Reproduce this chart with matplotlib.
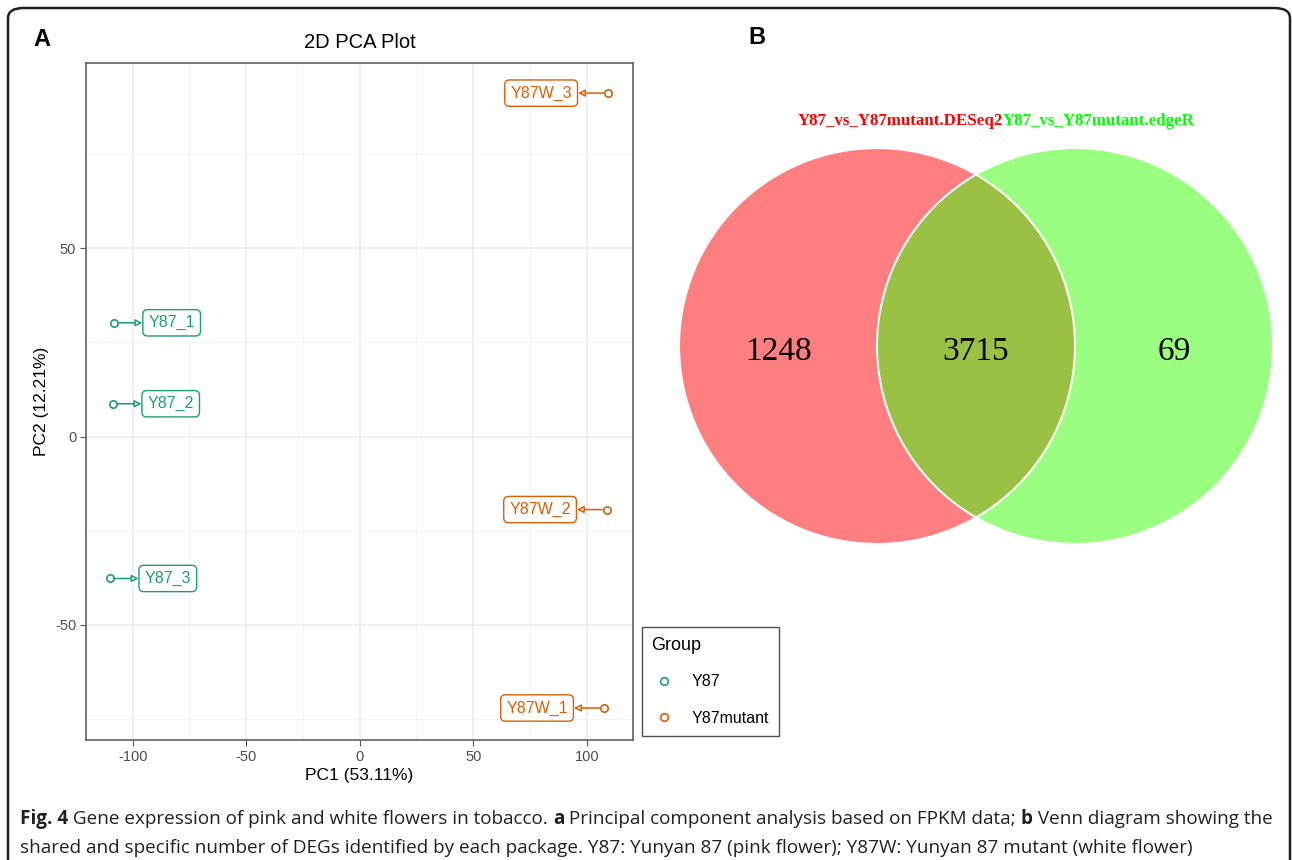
import matplotlib
matplotlib.use("Agg")
import matplotlib.pyplot as plt
from matplotlib.patches import Circle, FancyBboxPatch
from matplotlib.lines import Line2D

# ---------------- data ----------------
sample_names = ["Y87_1", "Y87_2", "Y87_3", "Y87W_1", "Y87W_2", "Y87W_3"]
sample_groups = ["Y87", "Y87", "Y87", "Y87mutant", "Y87mutant", "Y87mutant"]
pc1 = [-108.4, -108.8, -110.1, 107.5, 108.8, 109.3]
pc2 = [30.2, 8.7, -37.7, -72.1, -19.4, 91.2]
group_names = ["Y87", "Y87mutant"]
group_colors = {"Y87": "#1B9E77", "Y87mutant": "#D95F02"}
x_ticks = [-100, -50, 0, 50, 100]
y_ticks = [-50, 0, 50]
pc1_label = "PC1 (53.11%)"
pc2_label = "PC2 (12.21%)"

venn_set_names = ["Y87_vs_Y87mutant.DESeq2", "Y87_vs_Y87mutant.edgeR"]
venn_counts = [1248, 3715, 69]   # only set A, shared, only set B

caption_bold = "Fig. 4"
caption_l1 = (" Gene expression of pink and white flowers in tobacco. ")
caption_a = "a"
caption_l1b = " Principal component analysis based on FPKM data; "
caption_b = "b"
caption_l1c = " Venn diagram showing the"
caption_l2 = ("shared and specific number of DEGs identified by each package. "
              "Y87: Yunyan 87 (pink flower); Y87W: Yunyan 87 mutant (white flower)")

# ---------------- figure ----------------
W, H = 1292, 860
fig = plt.figure(figsize=(W / 100, H / 100), dpi=100)
plt.rcParams['font.family'] = ['Liberation Sans', 'DejaVu Sans']
plt.rcParams['axes.unicode_minus'] = False


def fx(px):
    return px / W


def fy(py):
    return 1 - py / H


# outer frame
frame = FancyBboxPatch((fx(8), fy(875)), fx(1290) - fx(8), fy(8) - fy(875),
                       boxstyle="round,pad=0,rounding_size=0.012",
                       transform=fig.transFigure, fill=False,
                       edgecolor="#231F20", linewidth=1.8, clip_on=False)
fig.patches.append(frame)

# ---------------- PCA panel ----------------
L, R, T, B = 86, 633, 63, 740
ax = fig.add_axes([fx(L), fy(B), fx(R) - fx(L), fy(T) - fy(B)])
ax.set_xlim(-120.6, 120.4)
ax.set_ylim(-80.6, 99.2)
ax.set_xticks(x_ticks)
ax.set_yticks(y_ticks)
ax.set_xticks([-75, -25, 25, 75], minor=True)
ax.set_yticks([-75, -25, 25, 75], minor=True)
ax.grid(True, which="major", color="#EBEBEB", linewidth=1.1)
ax.grid(True, which="minor", color="#F2F2F2", linewidth=0.6)
ax.set_axisbelow(True)
for s in ax.spines.values():
    s.set_edgecolor("#555555")
    s.set_linewidth(1.1)
ax.tick_params(which="major", length=4, color="#555555", labelsize=10.5,
               labelcolor="#4D4D4D", pad=3)
ax.tick_params(which="minor", length=0)
ax.set_xlabel(pc1_label, fontsize=12.5, color="black", labelpad=3)
ax.set_ylabel(pc2_label, fontsize=12.5, color="black", labelpad=4)
ax.set_title("2D PCA Plot", fontsize=14.5, pad=11)

for name, g, x, y in zip(sample_names, sample_groups, pc1, pc2):
    c = group_colors[g]
    ax.scatter([x], [y], s=28, facecolors="white", edgecolors=c,
               linewidths=1.2, zorder=4)
    if x < 0:
        tx, ha = x + 15.3, "left"
    else:
        tx, ha = x - 15.8, "right"
    ax.annotate(name, xy=(x, y), xytext=(tx, y), ha=ha, va="center",
                fontsize=11.5, color=c, zorder=5,
                bbox=dict(boxstyle="round,pad=0.35,rounding_size=0.3",
                          fc="white", ec=c, lw=1.0),
                arrowprops=dict(arrowstyle="<|-,head_length=0.35,head_width=0.18",
                                color=c, lw=1.1, shrinkA=0, shrinkB=3,
                                fc="white"))

handles = [Line2D([], [], marker="o", linestyle="none", markersize=5.5,
                  markerfacecolor="white", markeredgecolor=group_colors[g],
                  markeredgewidth=1.2, label=g) for g in group_names]
leg = fig.legend(handles=handles, title="Group", loc="upper left",
                 bbox_to_anchor=(fx(642), fy(627)), frameon=True,
                 fontsize=11.5, title_fontsize=13, borderpad=0.6,
                 labelspacing=1.35, handletextpad=1.0, handlelength=1.5,
                 fancybox=False, borderaxespad=0)
leg._legend_box.align = "left"
leg._legend_box.sep = 15
leg.get_frame().set_edgecolor("#222222")
leg.get_frame().set_linewidth(1.0)

# ---------------- Venn panel ----------------
r_px = 198.0
cx_px, cy_px = 976.0, 346.0
vL, vR, vT, vB = 670, 1283, 140, 555
vax = fig.add_axes([fx(vL), fy(vB), fx(vR) - fx(vL), fy(vT) - fy(vB)])
vax.set_xlim((vL - cx_px) / r_px, (vR - cx_px) / r_px)
vax.set_ylim(-(vB - cy_px) / r_px, (cy_px - vT) / r_px)
vax.axis("off")

cA = Circle((-0.5, 0), 1.0, facecolor="#FF7F80", edgecolor="none")
cB = Circle((0.5, 0), 1.0, facecolor="#9AFF80", edgecolor="none")
vax.add_patch(cB)
vax.add_patch(cA)
cI = Circle((-0.5, 0), 1.0, facecolor="#9AC144", edgecolor="none")
vax.add_patch(cI)
clipc = Circle((0.5, 0), 1.0, transform=vax.transData)
cI.set_clip_path(clipc)
for cx in (-0.5, 0.5):
    vax.add_patch(Circle((cx, 0), 1.0, fill=False, edgecolor="white", lw=1.5))

serif = ['Liberation Serif', 'DejaVu Serif']
for xc, v in zip((-1.0, 0.0, 1.0), venn_counts):
    vax.text(xc, -0.03, str(v), ha="center", va="center",
             fontsize=24, family=serif)
title_y = (cy_px - 121) / r_px
split_x = (1003 - cx_px) / r_px
vax.text(split_x, title_y, venn_set_names[0], ha="right", va="center",
         fontsize=12.2, fontweight="bold", color="#FF0000", family=serif,
         clip_on=False)
vax.text(split_x, title_y, venn_set_names[1], ha="left", va="center",
         fontsize=12.2, fontweight="bold", color="#00FF00", family=serif,
         clip_on=False)

# panel letters
fig.text(fx(42), fy(40), "A", fontsize=17, fontweight="bold", ha="center",
         va="center", family=['Liberation Sans', 'DejaVu Sans'])
fig.text(fx(757), fy(37), "B", fontsize=17, fontweight="bold", ha="center",
         va="center", family=['Liberation Sans', 'DejaVu Sans'])

# ---------------- caption ----------------
cap_font = ['Open Sans', 'DejaVu Sans']
cap_size = 13.55
cap_color = "#231F20"

fig.canvas.draw()
renderer = fig.canvas.get_renderer()


def put(xpx, ypx, s, bold=False):
    t = fig.text(fx(xpx), fy(ypx), s, fontsize=cap_size, color=cap_color,
                 family=cap_font, fontweight="bold" if bold else "normal",
                 ha="left", va="baseline")
    bb = t.get_window_extent(renderer=renderer)
    return xpx + bb.width


x = 20
base1 = 824
x = put(x, base1, caption_bold, True)
x = put(x, base1, caption_l1)
x = put(x, base1, caption_a, True)
x = put(x, base1, caption_l1b)
x = put(x, base1, caption_b, True)
x = put(x, base1, caption_l1c)
put(20, 853, caption_l2)

fig.savefig("out.png", dpi=100)
